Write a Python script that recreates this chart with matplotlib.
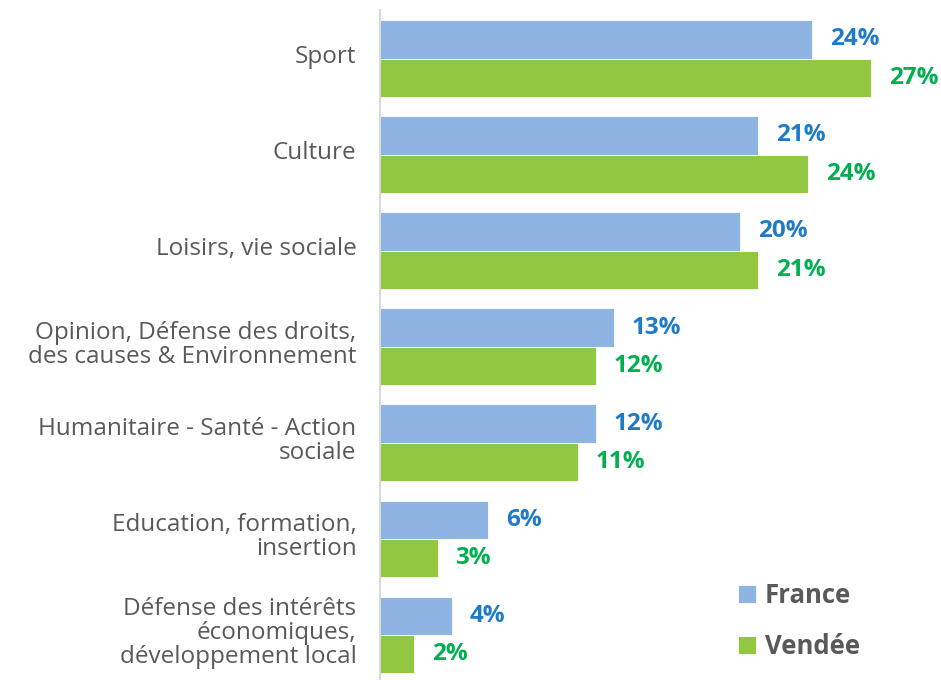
import matplotlib.pyplot as plt
import matplotlib.transforms as mtransforms
import numpy as np

categories = [
    "Sport",
    "Culture",
    "Loisirs, vie sociale",
    "Opinion, Défense des droits,\ndes causes & Environnement",
    "Humanitaire - Santé - Action\nsociale",
    "Education, formation,\ninsertion",
    "Défense des intérêts\néconomiques,\ndéveloppement local",
]
france = [24, 21, 20, 13, 12, 6, 4]
vendee = [27.3, 23.8, 21, 12, 11, 3.2, 1.9]

FRANCE_COLOR = "#8EB4E3"
VENDEE_COLOR = "#92C741"
FRANCE_TEXT = "#1F7BC8"
VENDEE_TEXT = "#00B050"
GREY = "#595959"

plt.rcParams["font.family"] = ["Open Sans", "DejaVu Sans"]

fig = plt.figure(figsize=(9.41, 6.80), dpi=100)
ax = fig.add_axes([380 / 941, 0, 1 - 380 / 941, 670 / 680])

y = np.arange(len(categories))
h = 0.4
ax.barh(y - h / 2, france, height=h, color=FRANCE_COLOR, edgecolor="white", linewidth=0.6, label="France")
ax.barh(y + h / 2, vendee, height=h, color=VENDEE_COLOR, edgecolor="white", linewidth=0.6, label="Vendée")

for yi, v in zip(y, france):
    ax.text(v + 1.0, yi - h / 2, f"{v:.0f}%", va="center", ha="left",
            fontsize=17.5, fontweight="bold", color=FRANCE_TEXT)
for yi, v in zip(y, vendee):
    ax.text(v + 1.0, yi + h / 2, f"{v:.0f}%", va="center", ha="left",
            fontsize=17.5, fontweight="bold", color=VENDEE_TEXT)

ax.set_xlim(0, 561 / 18)
ax.set_ylim(6.468, -0.505)
ax.set_yticks(y)
ax.set_yticklabels(categories, fontsize=17.5, color=GREY, linespacing=1.0)
ax.tick_params(axis="y", length=0, pad=17)
ax.set_xticks([])
# labels sit a few pixels above the group centre in the original
shift = mtransforms.ScaledTranslation(0, 5 / 100, fig.dpi_scale_trans)
for lbl in ax.get_yticklabels():
    lbl.set_transform(lbl.get_transform() + shift)
for side in ("top", "right", "bottom"):
    ax.spines[side].set_visible(False)
ax.spines["left"].set_color("#D9D9D9")
ax.spines["left"].set_linewidth(1.5)

ax.legend(loc="upper left", bbox_to_anchor=(738 / 941, 1 - 582 / 680),
          bbox_transform=fig.transFigure, frameon=False,
          prop={"size": 18.5, "weight": "bold"}, labelcolor=GREY,
          handlelength=0.7, handleheight=0.7, handletextpad=0.35,
          labelspacing=0.95, borderaxespad=0, borderpad=0)

fig.savefig("out.png", dpi=100)
